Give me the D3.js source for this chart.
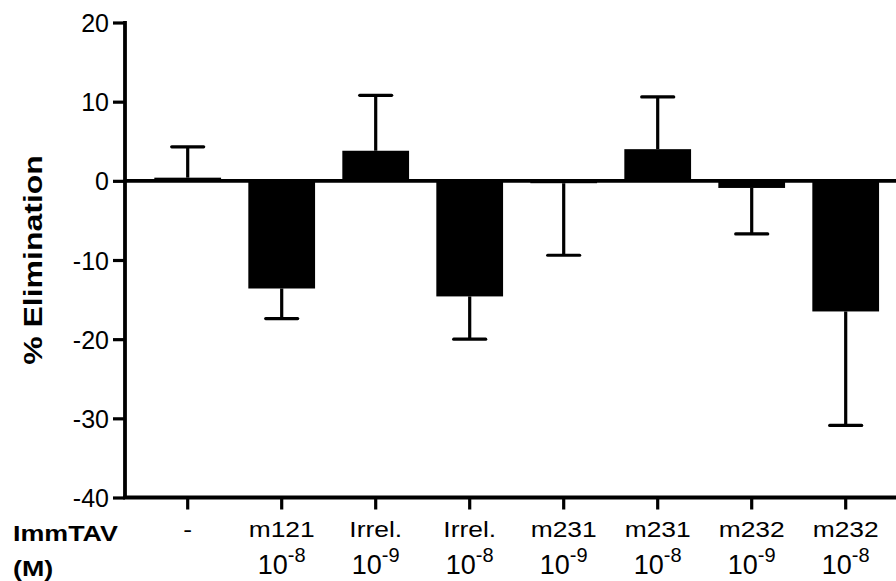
<!DOCTYPE html>
<html>
<head>
<meta charset="utf-8">
<script src="https://cdn.jsdelivr.net/npm/d3@7"></script>
<style>
  body { margin: 0; background: #fff; }
  text { font-family: "Liberation Sans", Arial, sans-serif; fill: #000; }
</style>
</head>
<body>
<svg width="896" height="581"></svg>
<script>
// values
var groups   = [ "-", "m121", "Irrel.", "Irrel.", "m231", "m231", "m232", "m232" ];
var conc     = [ "",  "-8",   "-9",     "-8",     "-9",   "-8",   "-9",   "-8"   ];
var means    = [ 0.4, -13.6, 3.8, -14.6, -0.3, 4.0, -0.9, -16.5 ];
var errors   = [ 3.9,  3.8,  7.0,   5.4,  9.1, 6.6,  5.8,  14.4 ];
var yTicks   = [ 20, 10, 0, -10, -20, -30, -40 ];

var svg = d3.select('svg');

var y = d3.scaleLinear()
  .domain([-40, 20])
  .range([497.5, 22.5]);

var x = d3.scaleBand()
  .domain(d3.range(groups.length))
  .range([140.7, 892.7])
  .paddingInner(0.29)
  .paddingOuter(0.145);

var axisX0 = 125;

// bars
svg.append('g')
  .selectAll('rect')
  .data(means)
  .enter()
  .append('rect')
  .attr('x', (d, i) => x(i))
  .attr('width', x.bandwidth())
  .attr('y', d => y(Math.max(d, 0)))
  .attr('height', d => Math.abs(y(d) - y(0)))
  .attr('fill', '#000');

// zero line
svg.append('line')
  .attr('x1', axisX0).attr('x2', 896)
  .attr('y1', y(0)).attr('y2', y(0))
  .attr('stroke', '#000').attr('stroke-width', 3.8);

// error bars (one-sided, away from zero)
var eb = svg.append('g')
  .attr('stroke', '#000')
  .attr('stroke-width', 3.2)
  .attr('stroke-linecap', 'round');

means.forEach(function(m, i) {
  var cx = x(i) + x.bandwidth() / 2;
  var end = m >= 0 ? m + errors[i] : m - errors[i];
  eb.append('line')
    .attr('x1', cx).attr('x2', cx)
    .attr('y1', y(m)).attr('y2', y(end))
    .attr('stroke-linecap', 'butt');
  eb.append('line')
    .attr('x1', cx - 16).attr('x2', cx + 16)
    .attr('y1', y(end)).attr('y2', y(end));
});

// y axis
var yAxis = d3.axisLeft(y)
  .tickValues(yTicks)
  .tickSize(12)
  .tickPadding(4)
  .tickFormat(d => String(d));

var gy = svg.append('g')
  .attr('transform', `translate(${axisX0},0)`)
  .call(yAxis);
gy.select('.domain').remove();
gy.append('line')
  .attr('x1', 0).attr('x2', 0)
  .attr('y1', y(20) - 1.5).attr('y2', y(-40) + 1.5)
  .attr('stroke', '#000').attr('stroke-width', 3.8);
gy.selectAll('.tick line').attr('stroke', '#000').attr('stroke-width', 3.2);
gy.selectAll('.tick text')
  .attr('font-size', 25)
  .attr('dy', '0.36em')
  .attr('fill', '#000');

// x axis
var gx = svg.append('g');
gx.append('line')
  .attr('x1', axisX0 - 1.9).attr('x2', 896)
  .attr('y1', y(-40)).attr('y2', y(-40))
  .attr('stroke', '#000').attr('stroke-width', 3.8);

gx.selectAll('line.tick')
  .data(groups)
  .enter()
  .append('line')
  .attr('class', 'tick')
  .attr('x1', (d, i) => x(i) + x.bandwidth() / 2)
  .attr('x2', (d, i) => x(i) + x.bandwidth() / 2)
  .attr('y1', y(-40))
  .attr('y2', y(-40) + 12)
  .attr('stroke', '#000').attr('stroke-width', 3.2);

gx.selectAll('text.grp')
  .data(groups)
  .enter()
  .append('text')
  .attr('class', 'grp')
  .attr('text-anchor', 'middle')
  .attr('font-size', 22)
  .attr('transform', (d, i) => `translate(${x(i) + x.bandwidth() / 2},537) scale(1.2,1)`)
  .text(d => d);

var conc_t = gx.selectAll('text.conc')
  .data(conc.filter(c => c !== ''))
  .enter()
  .append('text')
  .attr('class', 'conc')
  .attr('text-anchor', 'middle')
  .attr('font-size', 27)
  .attr('x', (d, i) => x(i + 1) + x.bandwidth() / 2)
  .attr('y', 574);
conc_t.append('tspan').text('10');
conc_t.append('tspan')
  .attr('font-size', 20)
  .attr('dy', -12)
  .text(d => d);

// left-hand labels
svg.append('text')
  .attr('font-size', 22)
  .attr('font-weight', 'bold')
  .attr('transform', 'translate(13,541) scale(1.22,1)')
  .text('ImmTAV');
svg.append('text')
  .attr('font-size', 22)
  .attr('font-weight', 'bold')
  .attr('transform', 'translate(13,576) scale(1.22,1)')
  .text('(M)');

// y title
svg.append('text')
  .attr('font-size', 25)
  .attr('font-weight', 'bold')
  .attr('text-anchor', 'middle')
  .attr('transform', 'translate(42,260) rotate(-90) scale(1.28,1)')
  .text('% Elimination');
</script>
</body>
</html>
